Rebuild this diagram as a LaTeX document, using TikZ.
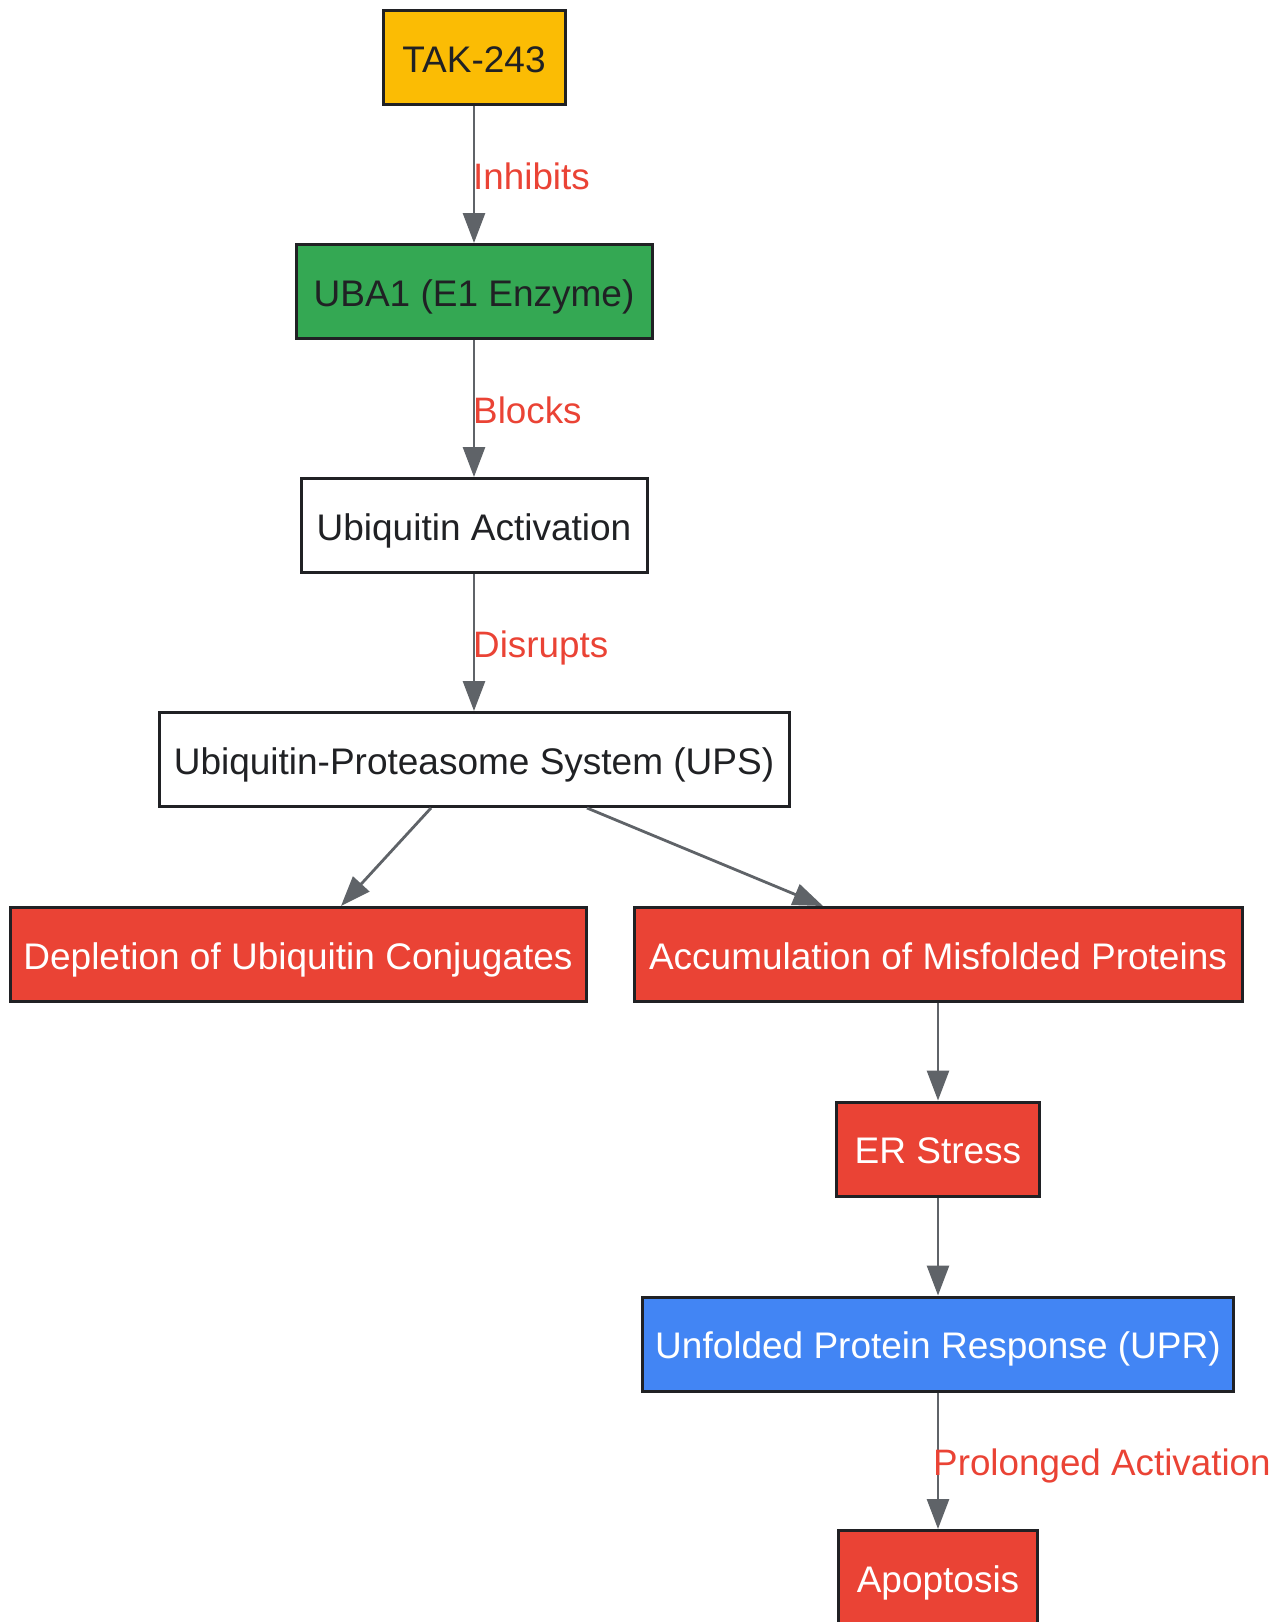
\documentclass[tikz,border=0pt]{standalone}
\usepackage{fontspec}
\setmainfont{Liberation Sans}
\usetikzlibrary{arrows.meta}
\definecolor{cyellow}{HTML}{FBBC04}
\definecolor{cgreen}{HTML}{34A853}
\definecolor{cred}{HTML}{EA4335}
\definecolor{cblue}{HTML}{4285F4}
\definecolor{cdark}{HTML}{202124}
\definecolor{cedge}{HTML}{5F6368}
\tikzset{
  box/.style={draw=cdark, line width=3pt, rectangle, minimum height=94pt, inner sep=0pt,
    text height=29pt, text depth=0pt,
    font=\fontsize{37}{44}\selectfont, text=cdark},
  redbox/.style={box, fill=cred, text=white},
  edge/.style={draw=cedge, line width=2.8pt, -{Triangle[length=30pt,width=22pt]}},
  elabel/.style={text=cred, font=\fontsize{36.8}{44}\selectfont, inner sep=0pt, anchor=base west}
}
\begin{document}
\begin{tikzpicture}[x=1pt,y=-1pt]
\useasboundingbox (0,0) rectangle (1278,1622);
\node[box, fill=cyellow, minimum width=182pt] (tak) at (474,57.5) {TAK-243};
\node[box, fill=cgreen, minimum width=356pt] (uba) at (474,291.5) {UBA1 (E1 Enzyme)};
\node[box, fill=white, minimum width=346pt] (act) at (474,525.5) {Ubiquitin Activation};
\node[box, fill=white, minimum width=630pt] (ups) at (474,759.5) {Ubiquitin-Proteasome System (UPS)};
\node[redbox, minimum width=576pt] (dep) at (298,954.5) {Depletion of Ubiquitin Conjugates};
\node[redbox, minimum width=608pt] (acc) at (938,954.5) {Accumulation of Misfolded Proteins};
\node[redbox, minimum width=203pt] (er) at (938,1149) {ER Stress};
\node[box, fill=cblue, text=white, minimum width=591pt] (upr) at (938,1344) {Unfolded Protein Response (UPR)};
\node[redbox, minimum width=199pt] (apo) at (938,1577.5) {Apoptosis};

\draw[edge] (tak) -- (uba);
\draw[edge] (uba) -- (act);
\draw[edge] (act) -- (ups);
\coordinate (ua) at (431,808);
\coordinate (da) at (341,906);
\coordinate (ub) at (587,808);
\coordinate (db) at (823,906);
\draw[edge] (ua) -- (da);
\draw[edge] (ub) -- (db);
\draw[edge] (acc) -- (er);
\draw[edge] (er) -- (upr);
\draw[edge] (upr) -- (apo);

\node[elabel] (l1) at (473,189) {Inhibits};
\node[elabel] (l2) at (473,423) {Blocks};
\node[elabel] (l3) at (473,657) {Disrupts};
\node[elabel] (l4) at (933,1475) {Prolonged Activation};
\end{tikzpicture}
\end{document}
